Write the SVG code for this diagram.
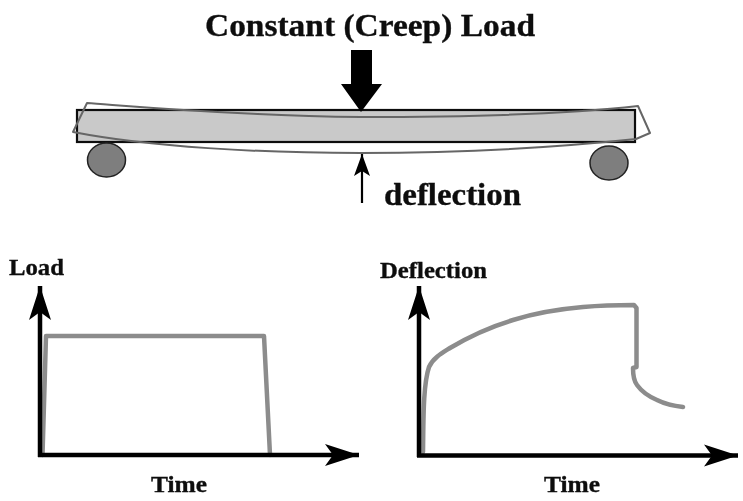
<svg xmlns="http://www.w3.org/2000/svg" width="743" height="501" viewBox="0 0 743 501">
<style>
text{font-family:"Liberation Serif","Times New Roman",serif;font-weight:700;fill:#111;stroke:#111;stroke-width:.35;filter:url(#soft)}
.gray{fill:none;stroke:#8c8c8c;stroke-linejoin:round;stroke-linecap:round}
.axis{fill:none;stroke:#000;stroke-width:4.5}
.roller{fill:#7e7e7e;stroke:#222;stroke-width:1.5}
.soft{filter:url(#soft)}
</style>
<defs>
<filter id="soft" x="-5%" y="-20%" width="110%" height="140%"><feGaussianBlur stdDeviation="0.5"/></filter>
<marker id="head" markerUnits="userSpaceOnUse" markerWidth="36" markerHeight="26" refX="34" refY="13" orient="auto">
<path d="M0 2 L34 13 L0 24 L8 13 Z" fill="#000"/>
</marker>
<marker id="headThin" markerUnits="userSpaceOnUse" markerWidth="24" markerHeight="18" refX="22" refY="9" orient="auto">
<path d="M0 1 L22 9 L0 17 L5 9 Z" fill="#000"/>
</marker>
</defs>
<rect width="743" height="501" fill="#fff"/>
<g id="title"><text x="205" y="36" font-size="31" textLength="330" lengthAdjust="spacingAndGlyphs">Constant (Creep) Load</text></g>
<g id="beam" class="soft">
<rect x="77" y="110" width="558" height="32" fill="#c9c9c9" stroke="#111" stroke-width="2.2"/>
<path class="gray" stroke-width="2" d="M73 132 L87 103 C130 106 240 116 361 117 C470 117 570 114 638 106 L650 133 L636 139 C570 146 470 153 361 153 C260 153 150 147 73 132 Z" style="stroke:#666"/>
</g>
<g id="roller-left" class="soft"><ellipse class="roller" cx="106.500" cy="160" rx="19" ry="17"/></g>
<g id="roller-right" class="soft"><ellipse class="roller" cx="609" cy="163" rx="19" ry="17"/></g>
<g id="load-arrow" class="soft"><path d="M351 50 H372 V84 H382 L361 112 L341 84 H351 Z" fill="#000"/></g>
<g id="deflection-label"><text x="384" y="205" font-size="31" textLength="137" lengthAdjust="spacingAndGlyphs">deflection</text></g>
<g id="load-chart">
<text x="9" y="275" font-size="22.500" textLength="55" lengthAdjust="spacingAndGlyphs">Load</text>
<path class="gray soft" stroke-width="4.500" d="M42.500 455 L46 336 H264 L270 455"/>
<text x="151" y="492" font-size="22.500" textLength="56" lengthAdjust="spacingAndGlyphs">Time</text>
</g>
<g id="deflection-chart">
<text x="380" y="278" font-size="22.500" textLength="107" lengthAdjust="spacingAndGlyphs">Deflection</text>
<path class="gray soft" stroke-width="4.500" d="M423 452 C423.500 420 423 385 429 367 C433 358 442 353 450 348 C470 336 490 327 513 320 C535 313 560 309 583 307 C600 305.500 620 305 634 305 L636.500 308 V367 L633 368 C633 376 634 381 637 385 C642 392 650 397 657 400 C665 404 674 406 683 407"/>
<text x="544" y="492" font-size="22.500" textLength="56" lengthAdjust="spacingAndGlyphs">Time</text>
</g>
<g id="connectors" class="soft">
<path d="M362 203 V154" fill="none" stroke="#000" stroke-width="2.2" marker-end="url(#headThin)"/>
<path class="axis" d="M40 457 V286" marker-end="url(#head)"/>
<path class="axis" d="M38 455 H359" marker-end="url(#head)"/>
<path class="axis" d="M419 457 V286" marker-end="url(#head)"/>
<path class="axis" d="M417 455.500 H738" marker-end="url(#head)"/>
</g>
</svg>
